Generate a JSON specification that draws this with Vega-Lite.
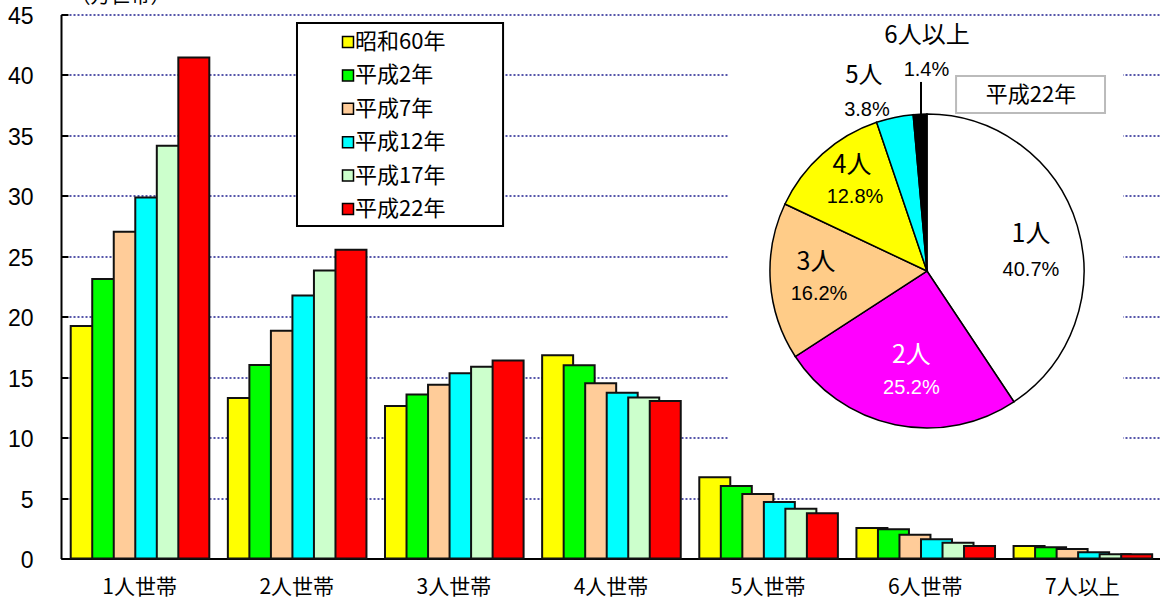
{
  "$schema": "https://vega.github.io/schema/vega-lite/v6.json",
  "width": 1100,
  "height": 544,
  "autosize": {"type": "none"},
  "padding": {"left": 61, "top": 14.5, "right": 0, "bottom": 41.5},
  "background": "white",
  "config": {"font": "Noto Sans CJK JP", "view": {"stroke": null}},
  "datasets": {
    "bars": [
      {"cat": "1人世帯", "year": "昭和60年", "value": 19.24},
      {"cat": "1人世帯", "year": "平成2年", "value": 23.13},
      {"cat": "1人世帯", "year": "平成7年", "value": 27.02},
      {"cat": "1人世帯", "year": "平成12年", "value": 29.86},
      {"cat": "1人世帯", "year": "平成17年", "value": 34.14},
      {"cat": "1人世帯", "year": "平成22年", "value": 41.44},
      {"cat": "2人世帯", "year": "昭和60年", "value": 13.28},
      {"cat": "2人世帯", "year": "平成2年", "value": 16.01},
      {"cat": "2人世帯", "year": "平成7年", "value": 18.83},
      {"cat": "2人世帯", "year": "平成12年", "value": 21.75},
      {"cat": "2人世帯", "year": "平成17年", "value": 23.82},
      {"cat": "2人世帯", "year": "平成22年", "value": 25.53},
      {"cat": "3人世帯", "year": "昭和60年", "value": 12.62},
      {"cat": "3人世帯", "year": "平成2年", "value": 13.56},
      {"cat": "3人世帯", "year": "平成7年", "value": 14.38},
      {"cat": "3人世帯", "year": "平成12年", "value": 15.33},
      {"cat": "3人世帯", "year": "平成17年", "value": 15.87},
      {"cat": "3人世帯", "year": "平成22年", "value": 16.37},
      {"cat": "4人世帯", "year": "昭和60年", "value": 16.82},
      {"cat": "4人世帯", "year": "平成2年", "value": 15.99},
      {"cat": "4人世帯", "year": "平成7年", "value": 14.5},
      {"cat": "4人世帯", "year": "平成12年", "value": 13.72},
      {"cat": "4人世帯", "year": "平成17年", "value": 13.31},
      {"cat": "4人世帯", "year": "平成22年", "value": 13.03},
      {"cat": "5人世帯", "year": "昭和60年", "value": 6.72},
      {"cat": "5人世帯", "year": "平成2年", "value": 6.0},
      {"cat": "5人世帯", "year": "平成7年", "value": 5.34},
      {"cat": "5人世帯", "year": "平成12年", "value": 4.68},
      {"cat": "5人世帯", "year": "平成17年", "value": 4.12},
      {"cat": "5人世帯", "year": "平成22年", "value": 3.74},
      {"cat": "6人世帯", "year": "昭和60年", "value": 2.52},
      {"cat": "6人世帯", "year": "平成2年", "value": 2.42},
      {"cat": "6人世帯", "year": "平成7年", "value": 1.97},
      {"cat": "6人世帯", "year": "平成12年", "value": 1.59},
      {"cat": "6人世帯", "year": "平成17年", "value": 1.31},
      {"cat": "6人世帯", "year": "平成22年", "value": 1.03},
      {"cat": "7人以上", "year": "昭和60年", "value": 1.03},
      {"cat": "7人以上", "year": "平成2年", "value": 0.93},
      {"cat": "7人以上", "year": "平成7年", "value": 0.79},
      {"cat": "7人以上", "year": "平成12年", "value": 0.51},
      {"cat": "7人以上", "year": "平成17年", "value": 0.35},
      {"cat": "7人以上", "year": "平成22年", "value": 0.35}
    ],
    "pie": [
      {"size": "1人", "share": 40.7, "pct": "40.7%"},
      {"size": "2人", "share": 25.2, "pct": "25.2%"},
      {"size": "3人", "share": 16.2, "pct": "16.2%"},
      {"size": "4人", "share": 12.8, "pct": "12.8%"},
      {"size": "5人", "share": 3.8, "pct": "3.8%"},
      {"size": "6人以上", "share": 1.4, "pct": "1.4%"}
    ],
    "one": [{}]
  },
  "layer": [
    {
      "data": {"name": "bars"},
      "mark": {"type": "bar", "width": {"band": 1.44}, "stroke": "#111111", "strokeWidth": 2},
      "encoding": {
        "x": {
          "field": "cat", "type": "nominal", "sort": null,
          "scale": {"paddingInner": 0.118, "paddingOuter": 0.059},
          "axis": {"title": null, "labelAngle": 0, "ticks": false, "domainColor": "black", "domainWidth": 2, "labelFontSize": 21, "labelColor": "black", "labelPadding": 18, "labelFont": "Noto Sans CJK JP"}
        },
        "xOffset": {"field": "year", "type": "nominal", "sort": null, "scale": {"paddingInner": 0, "paddingOuter": 0.22, "range": [26.2, 164.8]}},
        "y": {
          "field": "value", "type": "quantitative",
          "scale": {"domain": [0, 45], "nice": false},
          "axis": {
            "title": "（万世帯）", "titleAngle": 0, "titleAlign": "left", "titleBaseline": "alphabetic", "titleX": 9, "titleY": -12.5, "titleFontSize": 20, "titleFontWeight": "normal", "titleColor": "black",
            "values": [0, 5, 10, 15, 20, 25, 30, 35, 40, 45],
            "labelFont": "Liberation Sans", "labelFontSize": 23, "labelColor": "black", "labelOffset": 2,
            "tickSize": -7, "tickColor": "black", "tickWidth": 2, "labelPadding": 35,
            "domainColor": "black", "domainWidth": 2,
            "grid": true, "gridColor": "#1f1f8f", "gridDash": [2, 2], "gridWidth": 1.5
          }
        },
        "color": {
          "field": "year", "type": "nominal", "sort": null,
          "scale": {"domain": ["昭和60年", "平成2年", "平成7年", "平成12年", "平成17年", "平成22年"], "range": ["#FFFF00", "#00FF00", "#FFCC99", "#00FFFF", "#CCFFCC", "#FF0000"]},
          "legend": {
            "title": null, "orient": "none", "legendX": 236, "legendY": 8.5, "direction": "vertical",
            "padding": 8, "rowPadding": 11.4,
            "symbolType": "square", "symbolSize": 121, "symbolStrokeColor": "black", "symbolStrokeWidth": 1.5, "symbolOffset": 32,
            "labelOffset": -4, "labelFontSize": 22, "labelColor": "black", "labelFont": "Noto Sans CJK JP"
          }
        }
      }
    },
    {
      "data": {"name": "one"},
      "mark": {"type": "rect", "fill": "white", "stroke": "black", "strokeWidth": 2},
      "encoding": {
        "x": {"datum": "2人世帯", "bandPosition": 0.502},
        "x2": {"datum": "3人世帯", "bandPosition": 0.855},
        "y": {"datum": 44.3},
        "y2": {"datum": 27.5}
      }
    },
    {
      "data": {"name": "one"},
      "mark": {"type": "rect", "fill": "white"},
      "encoding": {
        "x": {"datum": "5人世帯", "bandPosition": 0.21},
        "x2": {"datum": "7人以上", "bandPosition": 0.793},
        "y": {"datum": 44.83},
        "y2": {"datum": 7.32}
      }
    },
    {
      "data": {"name": "pie"},
      "mark": {"type": "arc", "outerRadius": 157, "stroke": "black", "strokeWidth": 1.5},
      "encoding": {
        "theta": {"field": "share", "type": "quantitative", "stack": true},
        "order": {"field": "size", "type": "ordinal"},
        "color": {
          "field": "size", "type": "nominal",
          "scale": {"domain": ["1人", "2人", "3人", "4人", "5人", "6人以上"], "range": ["#FFFFFF", "#FF00FF", "#FFCC88", "#FFFF00", "#00FFFF", "#000000"]},
          "legend": null
        },
        "x": {"datum": "6人世帯", "bandPosition": 0.512},
        "y": {"datum": 23.78}
      }
    },
    {
      "data": {"name": "one"},
      "mark": {"type": "rule", "stroke": "black", "strokeWidth": 2},
      "encoding": {
        "x": {"datum": "6人世帯", "bandPosition": 0.469},
        "y": {"datum": 39.42},
        "y2": {"datum": 36.61}
      }
    },
    {
      "data": {"name": "pie"},
      "mark": {"type": "text", "fontSize": 25, "font": "Noto Sans CJK JP", "radius": 105, "dx": 3.5, "dy": -7},
      "encoding": {
        "theta": {"field": "share", "type": "quantitative", "stack": true},
        "order": {"field": "size", "type": "ordinal"},
        "x": {"datum": "6人世帯", "bandPosition": 0.512},
        "y": {"datum": 23.78},
        "text": {"condition": {"test": "datum.size === '1人'", "field": "size"}, "value": ""}
      }
    },
    {
      "data": {"name": "pie"},
      "mark": {"type": "text", "fontSize": 20, "font": "Liberation Sans", "radius": 105, "dx": 3.5, "dy": 29},
      "encoding": {
        "theta": {"field": "share", "type": "quantitative", "stack": true},
        "order": {"field": "size", "type": "ordinal"},
        "x": {"datum": "6人世帯", "bandPosition": 0.512},
        "y": {"datum": 23.78},
        "text": {"condition": {"test": "datum.size === '1人'", "field": "pct"}, "value": ""}
      }
    },
    {
      "data": {"name": "pie"},
      "mark": {"type": "text", "fontSize": 25, "font": "Noto Sans CJK JP", "radius": 101.6, "dx": 5, "dy": -15.5, "color": "white"},
      "encoding": {
        "theta": {"field": "share", "type": "quantitative", "stack": true},
        "order": {"field": "size", "type": "ordinal"},
        "x": {"datum": "6人世帯", "bandPosition": 0.512},
        "y": {"datum": 23.78},
        "text": {"condition": {"test": "datum.size === '2人'", "field": "size"}, "value": ""}
      }
    },
    {
      "data": {"name": "pie"},
      "mark": {"type": "text", "fontSize": 20, "font": "Liberation Sans", "radius": 101.6, "dx": 5, "dy": 17.5, "color": "white"},
      "encoding": {
        "theta": {"field": "share", "type": "quantitative", "stack": true},
        "order": {"field": "size", "type": "ordinal"},
        "x": {"datum": "6人世帯", "bandPosition": 0.512},
        "y": {"datum": 23.78},
        "text": {"condition": {"test": "datum.size === '2人'", "field": "pct"}, "value": ""}
      }
    },
    {
      "data": {"name": "pie"},
      "mark": {"type": "text", "fontSize": 25, "font": "Noto Sans CJK JP", "radius": 109.7, "dx": -1.5, "dy": -16},
      "encoding": {
        "theta": {"field": "share", "type": "quantitative", "stack": true},
        "order": {"field": "size", "type": "ordinal"},
        "x": {"datum": "6人世帯", "bandPosition": 0.512},
        "y": {"datum": 23.78},
        "text": {"condition": {"test": "datum.size === '3人'", "field": "size"}, "value": ""}
      }
    },
    {
      "data": {"name": "pie"},
      "mark": {"type": "text", "fontSize": 20, "font": "Liberation Sans", "radius": 109.7, "dx": 1.5, "dy": 16},
      "encoding": {
        "theta": {"field": "share", "type": "quantitative", "stack": true},
        "order": {"field": "size", "type": "ordinal"},
        "x": {"datum": "6人世帯", "bandPosition": 0.512},
        "y": {"datum": 23.78},
        "text": {"condition": {"test": "datum.size === '3人'", "field": "pct"}, "value": ""}
      }
    },
    {
      "data": {"name": "pie"},
      "mark": {"type": "text", "fontSize": 25, "font": "Noto Sans CJK JP", "radius": 116.1, "dx": 2.3, "dy": -19.3},
      "encoding": {
        "theta": {"field": "share", "type": "quantitative", "stack": true},
        "order": {"field": "size", "type": "ordinal"},
        "x": {"datum": "6人世帯", "bandPosition": 0.512},
        "y": {"datum": 23.78},
        "text": {"condition": {"test": "datum.size === '4人'", "field": "size"}, "value": ""}
      }
    },
    {
      "data": {"name": "pie"},
      "mark": {"type": "text", "fontSize": 20, "font": "Liberation Sans", "radius": 116.1, "dx": 5.3, "dy": 12.7},
      "encoding": {
        "theta": {"field": "share", "type": "quantitative", "stack": true},
        "order": {"field": "size", "type": "ordinal"},
        "x": {"datum": "6人世帯", "bandPosition": 0.512},
        "y": {"datum": 23.78},
        "text": {"condition": {"test": "datum.size === '4人'", "field": "pct"}, "value": ""}
      }
    },
    {
      "data": {"name": "pie"},
      "mark": {"type": "text", "fontSize": 24, "font": "Noto Sans CJK JP", "radius": 186.8, "dx": -24.6, "dy": -12.2},
      "encoding": {
        "theta": {"field": "share", "type": "quantitative", "stack": true},
        "order": {"field": "size", "type": "ordinal"},
        "x": {"datum": "6人世帯", "bandPosition": 0.512},
        "y": {"datum": 23.78},
        "text": {"condition": {"test": "datum.size === '5人'", "field": "size"}, "value": ""}
      }
    },
    {
      "data": {"name": "pie"},
      "mark": {"type": "text", "fontSize": 20, "font": "Liberation Sans", "radius": 186.8, "dx": -21.6, "dy": 21.8},
      "encoding": {
        "theta": {"field": "share", "type": "quantitative", "stack": true},
        "order": {"field": "size", "type": "ordinal"},
        "x": {"datum": "6人世帯", "bandPosition": 0.512},
        "y": {"datum": 23.78},
        "text": {"condition": {"test": "datum.size === '5人'", "field": "pct"}, "value": ""}
      }
    },
    {
      "data": {"name": "pie"},
      "mark": {"type": "text", "fontSize": 24, "font": "Noto Sans CJK JP", "radius": 218, "dx": 9.6, "dy": -17.2},
      "encoding": {
        "theta": {"field": "share", "type": "quantitative", "stack": true},
        "order": {"field": "size", "type": "ordinal"},
        "x": {"datum": "6人世帯", "bandPosition": 0.512},
        "y": {"datum": 23.78},
        "text": {"condition": {"test": "datum.size === '6人以上'", "field": "size"}, "value": ""}
      }
    },
    {
      "data": {"name": "pie"},
      "mark": {"type": "text", "fontSize": 20, "font": "Liberation Sans", "radius": 218, "dx": 9.1, "dy": 16.8},
      "encoding": {
        "theta": {"field": "share", "type": "quantitative", "stack": true},
        "order": {"field": "size", "type": "ordinal"},
        "x": {"datum": "6人世帯", "bandPosition": 0.512},
        "y": {"datum": 23.78},
        "text": {"condition": {"test": "datum.size === '6人以上'", "field": "pct"}, "value": ""}
      }
    },
    {
      "data": {"name": "one"},
      "mark": {"type": "rect", "fill": "white", "stroke": "#BBBBBB", "strokeWidth": 2},
      "encoding": {
        "x": {"datum": "6人世帯", "bandPosition": 0.722},
        "x2": {"datum": "7人以上", "bandPosition": 0.663},
        "y": {"datum": 39.91},
        "y2": {"datum": 36.85}
      }
    },
    {
      "data": {"name": "one"},
      "mark": {"type": "text", "fontSize": 22, "font": "Noto Sans CJK JP", "color": "black"},
      "encoding": {
        "x": {"datum": "7人以上", "bandPosition": 0.129},
        "y": {"datum": 38.34},
        "text": {"value": "平成22年"}
      }
    }
  ],
  "resolve": {"scale": {"color": "independent"}}
}
